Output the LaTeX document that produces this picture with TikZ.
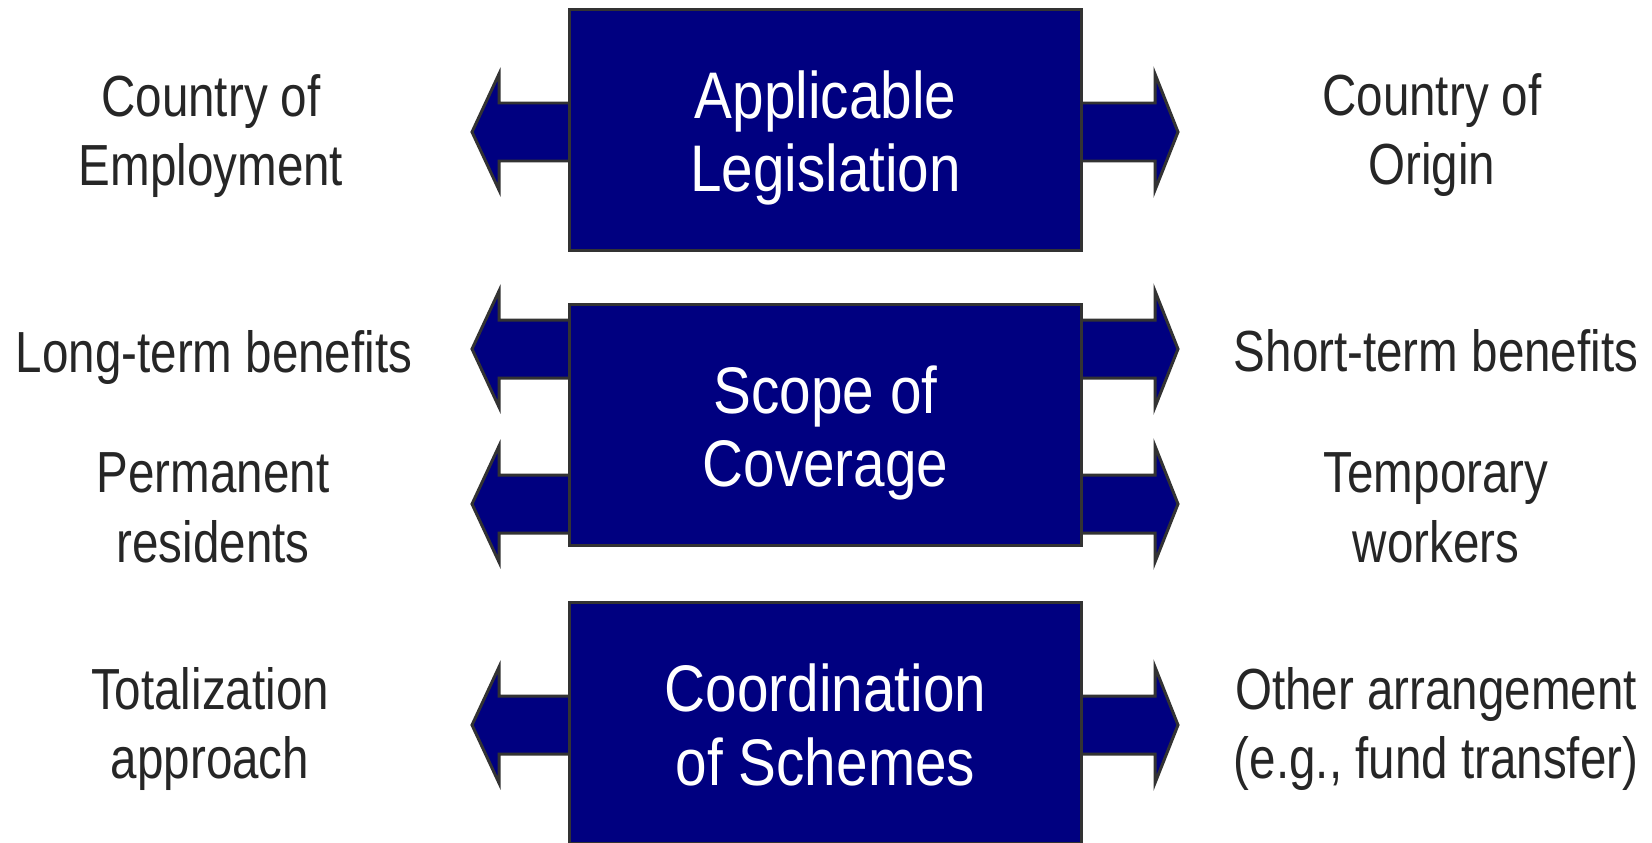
\documentclass[tikz,border=0pt]{standalone}
\usepackage{fontspec}
\setmainfont{Liberation Sans}[FakeStretch=0.82]
\newfontfamily\boxfont{Liberation Sans}[FakeStretch=0.86]
\definecolor{navy}{HTML}{000080}
\definecolor{rim}{HTML}{333333}
\definecolor{ink}{HTML}{262626}
% block arrows, given the height of their middle
\newcommand{\pointleft}[1]{\draw[blockarrow] (600,{#1-29}) -- (499,{#1-29}) -- (499,{#1-58}) -- (472,#1) -- (499,{#1+58}) -- (499,{#1+29}) -- (600,{#1+29}) -- cycle;}
\newcommand{\pointright}[1]{\draw[blockarrow] (1050,{#1-29}) -- (1155,{#1-29}) -- (1155,{#1-58}) -- (1178,#1) -- (1155,{#1+58}) -- (1155,{#1+29}) -- (1050,{#1+29}) -- cycle;}
\begin{document}
\begin{tikzpicture}[x=0.02cm,y=-0.02cm,
    mainbox/.style={draw=rim,line width=1.7pt,fill=navy,minimum width=10.26cm,minimum height=4.84cm},
    boxtext/.style={text=white,align=center,font=\boxfont\fontsize{37.5}{42}\selectfont},
    sidetext/.style={text=ink,align=center,font=\fontsize{33}{39.5}\selectfont},
    blockarrow/.style={draw=rim,line width=1.7pt,fill=navy,line join=miter}]
    \clip (0,0) rectangle (1652,842);
    %
    % arrows
    \pointleft{132} \pointright{132}
    \pointleft{349} \pointright{349}
    \pointleft{504} \pointright{504}
    \pointleft{725} \pointright{725}
    %
    % boxes
    \node[mainbox] (legis) at (825.5,130) {};
    \node[mainbox] (scope) at (825.5,425) {};
    \node[mainbox] (coord) at (825.5,723) {};
    \node[boxtext] (legistext) at (825.5,138) {Applicable\\Legislation};
    \node[boxtext] (scopetext) at (825.5,433) {Scope of\\Coverage};
    \node[boxtext] (coordtext) at (825.5,725) {Coordination\\of Schemes};
    %
    % labels
    \node[sidetext] (employ) at (211,136) {Country of\\Employment};
    \node[sidetext] (origin) at (1432,135) {Country of\\Origin};
    \node[sidetext] (longterm) at (214,358) {Long-term benefits};
    \node[sidetext] (shortterm) at (1436,351) {Short-term benefits};
    \node[sidetext] (perm) at (213,508) {Permanent\\residents};
    \node[sidetext] (temp) at (1436,508) {Temporary\\workers};
    \node[sidetext] (total) at (210,729) {Totalization\\approach};
    \node[sidetext] (other) at (1436,729) {Other arrangement\\(e.g., fund transfer)};
\end{tikzpicture}
\end{document}
